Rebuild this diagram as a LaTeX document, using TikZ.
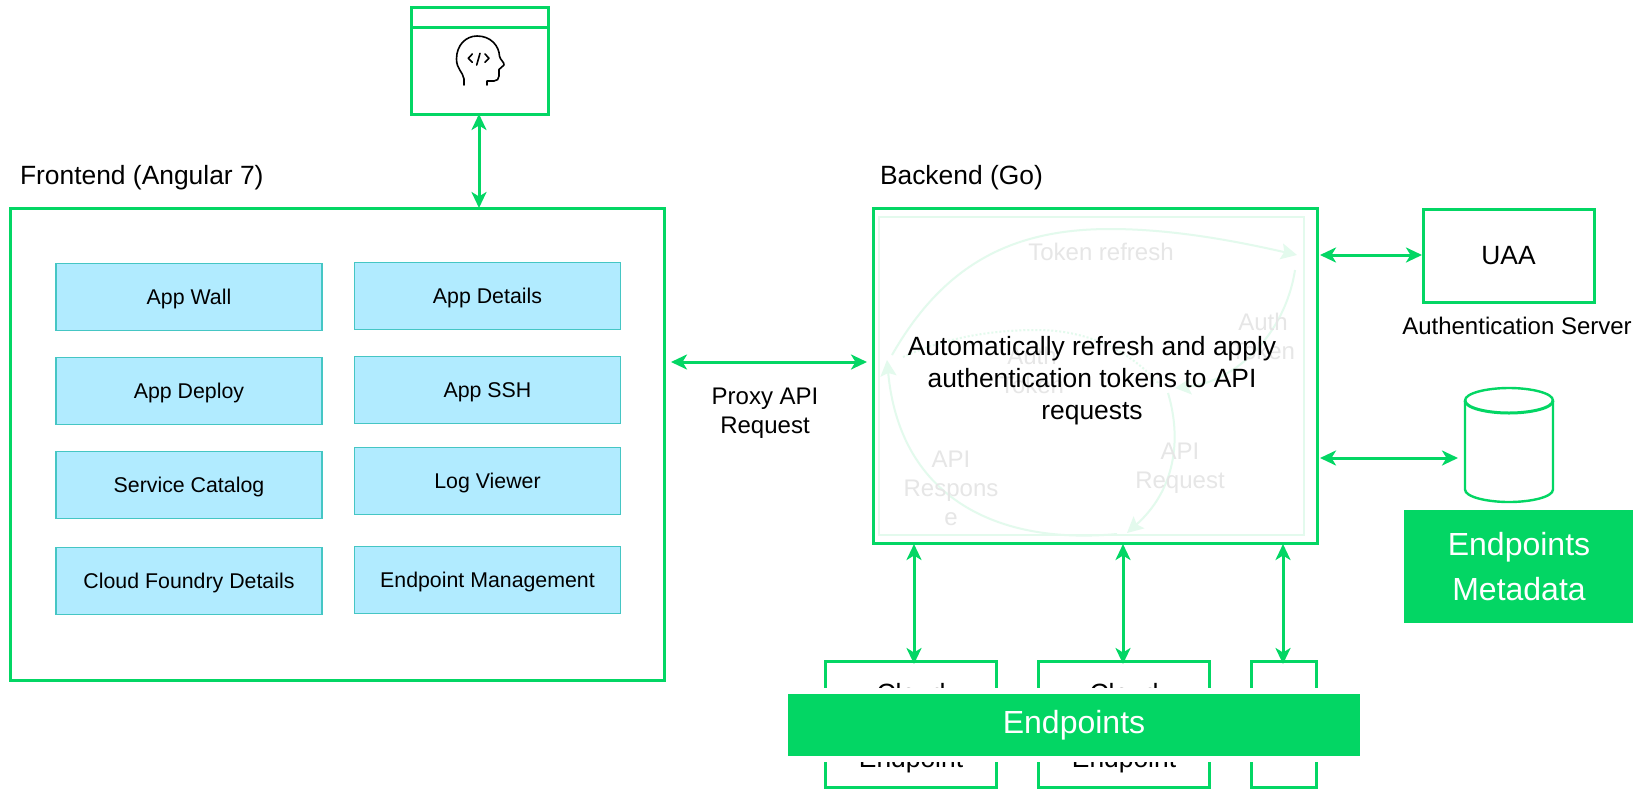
\documentclass[tikz,border=0pt]{standalone}
\usepackage{fontspec}
\setmainfont{Liberation Sans}
\usetikzlibrary{arrows.meta}
\definecolor{gr}{HTML}{03D664}
\definecolor{faint}{HTML}{E3FAED}
\definecolor{fainttxt}{HTML}{E6E6E6}
\definecolor{bluefill}{HTML}{B1EBFF}
\definecolor{bluedraw}{HTML}{45C6C4}
\newcommand{\fsz}[2]{\fontsize{#1}{#2}\selectfont}
\newcommand{\rbox}[6]{\node[#5,minimum width={(#4-#2)*1pt},minimum height={(#3-#1)*1pt}] (#6) at ({(#2+#4)/2},{(#1+#3)/2})}
\tikzset{
 x=1pt,y=-1pt,
 every node/.style={inner sep=0pt,outer sep=0pt,align=center},
 greenbox/.style={draw=gr,line width=3pt,fill=white},
 bluebox/.style={draw=bluedraw,line width=1.4pt,fill=bluefill,font=\fsz{21.33}{25.6},text height=20pt,text depth=4.7pt},
 filled/.style={fill=gr,text=white,font=\fsz{32}{45}},
 arr/.style={draw=gr,line width=3pt,{Stealth[length=16pt,width=15pt,inset=4.5pt]}-{Stealth[length=16pt,width=15pt,inset=4.5pt]}},
 fcurve/.style={draw=faint,line width=2pt},
 fhead/.style={-{Stealth[length=16pt,width=16pt,inset=3pt,color=faint]}},
 ftext/.style={text=fainttxt,font=\fsz{24}{29}},
 caption/.style={font=\fsz{24}{29}},
 big/.style={font=\fsz{26.4}{32}},
 mainline/.style={font=\fsz{26.4}{32},text height=24pt,text depth=8pt},
}
\begin{document}
\begin{tikzpicture}
\useasboundingbox (0,0) rectangle (1636,788);
% developer window
\rbox{7}{411}{114}{548}{greenbox}{dev} {};
\coordinate (devl) at (411,27); \coordinate (devr) at (548,27);
\draw[gr,line width=3pt] (devl) -- (devr);
\draw[black,line width=1.6pt,line join=round,line cap=round]
 (464,85) -- (464,79) .. controls (463,72) and (456.5,69) .. (456.5,59)
 .. controls (456.5,45) and (466,36) .. (477,36)
 .. controls (491,36) and (499,46) .. (499.5,56)
 .. controls (500,60) and (504.5,62) .. (504,65) -- (499,69.5) -- (499,76)
 .. controls (499,79) and (497,81) .. (494,81) -- (487,81) -- (487,85);
\draw[black,line width=1.6pt,line join=round,line cap=round]
 (472.3,54) -- (468.3,58.3) -- (472.3,62.3)
 (480,53.3) -- (476.7,65)
 (485,54) -- (489,58.3) -- (485,62.3);
% frontend
\rbox{208.7}{10.5}{680}{664}{greenbox}{front} {};
\node[big,anchor=base west] (ftitle) at (20,184) {Frontend (Angular 7)};
\rbox{263.5}{56}{330.5}{322}{bluebox}{b1} {App Wall};
\rbox{262.5}{354.5}{329.5}{620.5}{bluebox}{b2} {App Details};
\rbox{357.5}{56}{424.5}{322}{bluebox}{b3} {App Deploy};
\rbox{356.5}{354.5}{423.5}{620.5}{bluebox}{b4} {App SSH};
\rbox{451.5}{56}{518.5}{322}{bluebox}{b5} {Service Catalog};
\rbox{447.5}{354.5}{514.5}{620.5}{bluebox}{b6} {Log Viewer};
\rbox{547.5}{56}{614.5}{322}{bluebox}{b7} {Cloud Foundry Details};
\rbox{546.5}{354.5}{613.5}{620.5}{bluebox}{b8} {Endpoint Management};
% backend
\node[big,anchor=base west] (btitle) at (880,184) {Backend (Go)};
\rbox{208.5}{873.5}{543}{1317.5}{greenbox}{back} {};
\rbox{217}{879}{535}{1304}{draw=faint,line width=1.2pt}{inner} {};
% faint loop
\coordinate (c1) at (892,355); \coordinate (c2) at (1297,255);
\coordinate (c3) at (1295,270); \coordinate (c4) at (1175,388);
\coordinate (c5) at (1168,393); \coordinate (c6) at (1127,533);
\coordinate (c7) at (1117,534); \coordinate (c8) at (887,360);
\coordinate (c9) at (903,357); \coordinate (c10) at (1160,385);
\draw[fcurve,fhead] (c1) .. controls (945,262) and (1015,229) .. (1110,229) .. controls (1175,229) and (1240,242) .. (c2);
\draw[fcurve,fhead] (c3) .. controls (1285,335) and (1235,382) .. (c4);
\draw[fcurve,fhead] (c5) .. controls (1182,440) and (1175,490) .. (c6);
\draw[fcurve,fhead] (c7) .. controls (1000,545) and (900,500) .. (c8);
\draw[fcurve,dotted] (c9) .. controls (945,338) and (990,330) .. (1037,330) .. controls (1080,330) and (1125,345) .. (c10);
\node[ftext] (t1) at (1101,252) {Token refresh};
\node[ftext] (t2) at (1032,370) {Auth\\Token};
\node[ftext] (t3) at (1263,336) {Auth\\Token};
\node[ftext] (t4) at (1180,468) {API\\Request};
\node[ftext] (t5) at (951,488) {API\\Respons\\e};
\node[mainline] (m1) at (1092,347) {Automatically refresh and apply};
\node[mainline] (m2) at (1092,379) {authentication tokens to API};
\node[mainline] (m3) at (1092,411) {requests};
% UAA and store
\rbox{209}{1423}{302}{1594}{greenbox,big,text height=18pt,text depth=0pt}{uaa} {UAA};
\node[caption] (auth) at (1517,326) {Authentication Server};
\node[minimum width=88pt,minimum height=114pt] (db) at (1509,445) {};
\draw[gr,line width=2.4pt,fill=white]
 (1465,400.5) .. controls (1465,393) and (1487,388) .. (1509,388)
 .. controls (1531,388) and (1553,393) .. (1553,400.5) -- (1553,489.5)
 .. controls (1553,497) and (1531,502) .. (1509,502)
 .. controls (1487,502) and (1465,497) .. (1465,489.5) -- cycle;
\draw[gr,line width=3pt]
 (1465,400.5) .. controls (1465,408) and (1487,413) .. (1509,413)
 .. controls (1531,413) and (1553,408) .. (1553,400.5);
\rbox{510}{1404}{623}{1633}{filled}{meta} {};
\node[text=white,font=\fsz{32}{45}] (metat) at (1519,566.5) {Endpoints\\Metadata};
% endpoints
\rbox{661}{825}{787}{996}{greenbox}{e1} {};
\rbox{661}{1038}{787}{1209}{greenbox}{e2} {};
\rbox{661}{1251}{787}{1316}{greenbox}{e3} {};
\node[big,anchor=base] (e1a) at (911,702) {Cloud};
\node[big,anchor=base] (e1b) at (911,767) {Endpoint};
\node[big,anchor=base] (e2a) at (1124,702) {Cloud};
\node[big,anchor=base] (e2b) at (1124,767) {Endpoint};
\rbox{688}{780}{762}{1370}{fill=white}{halo} {};
\rbox{694}{788}{756}{1360}{filled}{bar} {Endpoints};
% connectors
\coordinate (a1) at (479,114); \coordinate (a2) at (479,208);
\coordinate (a3) at (671,362); \coordinate (a4) at (867,362);
\coordinate (a5) at (1320,255); \coordinate (a6) at (1422,255);
\coordinate (a7) at (1320,458); \coordinate (a8) at (1458,458);
\coordinate (a9) at (914,544); \coordinate (a10) at (914,664);
\coordinate (a11) at (1123,544); \coordinate (a12) at (1123,664);
\coordinate (a13) at (1283,544); \coordinate (a14) at (1283,664);
\draw[arr] (a1) -- (a2);
\draw[arr] (a3) -- (a4);
\draw[arr] (a5) -- (a6);
\draw[arr] (a7) -- (a8);
\draw[arr] (a9) -- (a10);
\draw[arr] (a11) -- (a12);
\draw[arr] (a13) -- (a14);
\node[caption] (proxy) at (765,413) {Proxy API\\Request};
\end{tikzpicture}
\end{document}
